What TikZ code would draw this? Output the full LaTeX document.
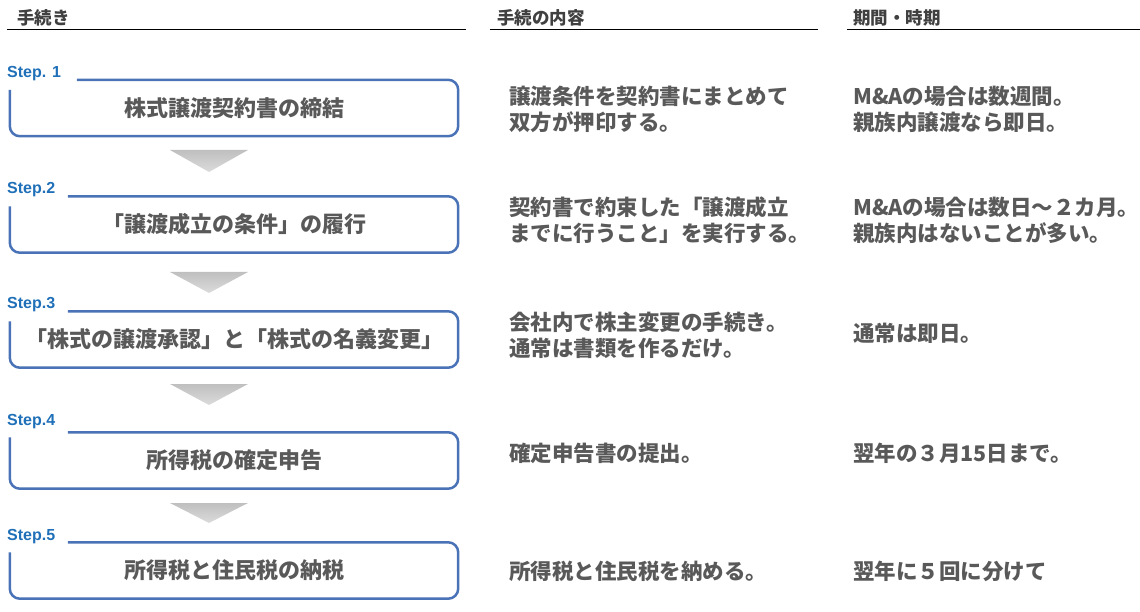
\documentclass[tikz,border=0pt]{standalone}
\usepackage{fontspec}
\newfontfamily\jpfont{Noto Sans CJK JP}
\setsansfont{Liberation Sans}
\usetikzlibrary{positioning}

\definecolor{framecol}{HTML}{4A72B6}
\definecolor{stepcol}{HTML}{1F70B8}
\definecolor{textcol}{HTML}{595959}

\tikzset{
  colhead/.style={anchor=west, inner sep=0pt, font=\jpfont\bfseries\fontsize{17.5}{19}\selectfont, text=black!75},
  steplabel/.style={anchor=west, inner sep=0pt, font=\sffamily\bfseries\fontsize{16}{18}\selectfont, text=stepcol},
  stepbox/.style={minimum width=448pt, minimum height=56pt, inner sep=0pt, font=\jpfont\bfseries\fontsize{22}{24}\selectfont, text=textcol},
  stepframe/.style={draw=framecol, line width=2.5pt, rounded corners=10pt},
  desc/.style={anchor=west, align=left, inner sep=0pt, font=\jpfont\bfseries\fontsize{21.5}{26}\selectfont, text=textcol},
  downtri/.style={top color=gray!50, bottom color=gray!28, draw=none},
}

\begin{document}
\begin{tikzpicture}[x=1pt,y=-1pt]
\useasboundingbox (0,0) rectangle (1140,612);

% Column headings
\node[colhead] (h1) at (17,18) {手続き};
\node[colhead] (h2) at (497,18) {手続の内容};
\node[colhead] (h3) at (853,18) {期間・時期};
\draw[line width=1pt] (7,30) -- (466,30);
\draw[line width=1pt] (490,30) -- (818,30);
\draw[line width=1pt] (847,30) -- (1140,30);

% Step boxes
\node[stepbox] (s1) at (234,108) {株式譲渡契約書の締結};
\node[stepbox] (s2) at (234,224.5) {「譲渡成立の条件」の履行};
\node[stepbox] (s3) at (234,339.5) {「株式の譲渡承認」と「株式の名義変更」};
\node[stepbox] (s4) at (234,460.5) {所得税の確定申告};
\node[stepbox] (s5) at (234,570.5) {所得税と住民税の納税};

% Step labels
\node[steplabel] (l1) at (7,74) {Step. 1};
\node[steplabel] (l2) at (7,190) {Step.2};
\node[steplabel] (l3) at (7,305) {Step.3};
\node[steplabel] (l4) at (7,422) {Step.4};
\node[steplabel] (l5) at (7,537) {Step.5};

% Frames, open at the top left corner
\draw[stepframe] ([yshift=-10pt]s1.north west) -- (s1.south west) -- (s1.south east) -- (s1.north east) -- ([xshift=67pt]s1.north west);
\draw[stepframe] ([yshift=-10pt]s2.north west) -- (s2.south west) -- (s2.south east) -- (s2.north east) -- ([xshift=58pt]s2.north west);
\draw[stepframe] ([yshift=-10pt]s3.north west) -- (s3.south west) -- (s3.south east) -- (s3.north east) -- ([xshift=58pt]s3.north west);
\draw[stepframe] ([yshift=-5pt]s4.north west) -- (s4.south west) -- (s4.south east) -- (s4.north east) -- ([xshift=58pt]s4.north west);
\draw[stepframe] ([yshift=-10pt]s5.north west) -- (s5.south west) -- (s5.south east) -- (s5.north east) -- ([xshift=58pt]s5.north west);

% Gray triangles between the steps
\shade[downtri] (170,150) -- (248,150) -- (209,172) -- cycle;
\shade[downtri] (170,272) -- (248,272) -- (209,293) -- cycle;
\shade[downtri] (170,384) -- (248,384) -- (209,405) -- cycle;
\shade[downtri] (170,503) -- (248,503) -- (209,523) -- cycle;

% Contents of each step
\node[desc] (c1) at (509,109) {譲渡条件を契約書にまとめて\\双方が押印する。};
\node[desc] (c2) at (509,220) {契約書で約束した「譲渡成立\\までに行うこと」を実行する。};
\node[desc] (c3) at (509,335) {会社内で株主変更の手続き。\\通常は書類を作るだけ。};
\node[desc] (c4) at (509,453) {確定申告書の提出。};
\node[desc] (c5) at (509,571) {所得税と住民税を納める。};

% Period
\node[desc] (p1) at (853,109) {M\&Aの場合は数週間。\\親族内譲渡なら即日。};
\node[desc] (p2) at (853,220) {M\&Aの場合は数日～２カ月。\\親族内はないことが多い。};
\node[desc] (p3) at (853,333) {通常は即日。};
\node[desc] (p4) at (853,453) {翌年の３月15日まで。};
\node[desc] (p5) at (853,571) {翌年に５回に分けて};

\end{tikzpicture}
\end{document}
